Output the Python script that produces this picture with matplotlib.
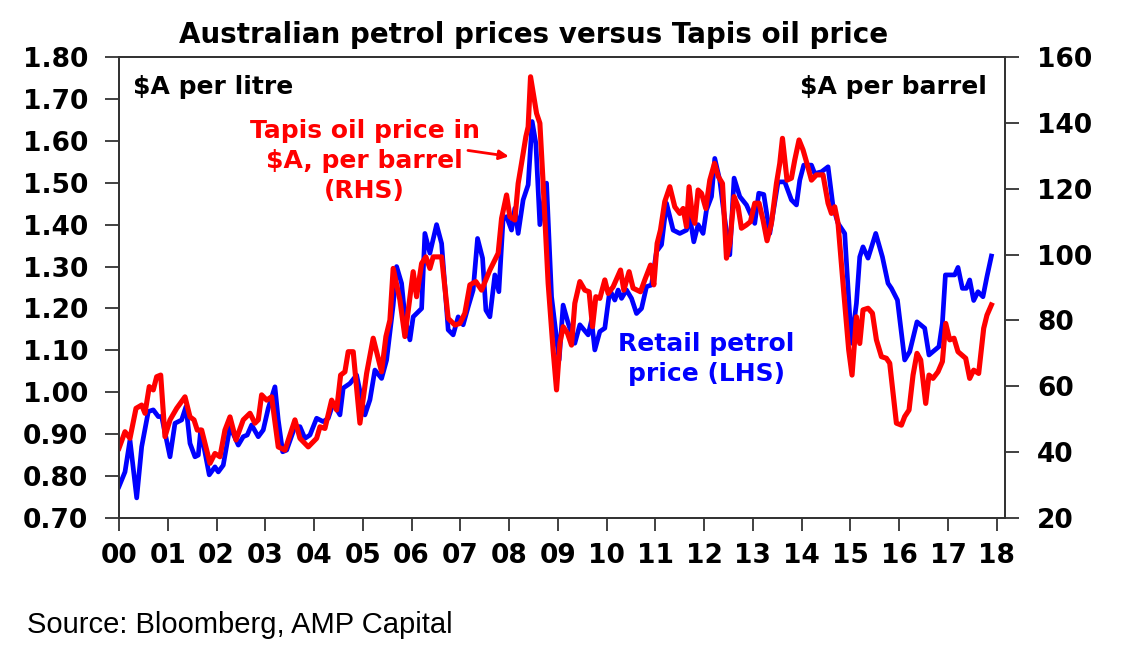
import matplotlib
matplotlib.use("Agg")
import matplotlib.pyplot as plt

# Retail petrol price, $A per litre (LHS)
petrol_years = [
    0.0, 0.123, 0.225, 0.363, 0.465, 0.601, 0.703, 0.806, 0.875, 1.046,
    1.148, 1.285, 1.374, 1.456, 1.558, 1.626, 1.675, 1.851, 1.968, 2.036,
    2.138, 2.276, 2.446, 2.548, 2.630, 2.720, 2.856, 2.958, 3.061, 3.198,
    3.266, 3.356, 3.438, 3.608, 3.711, 3.813, 3.916, 4.053, 4.188, 4.291,
    4.393, 4.531, 4.598, 4.736, 4.873, 5.043, 5.146, 5.248, 5.385, 5.488,
    5.623, 5.693, 5.795, 5.863, 5.966, 6.033, 6.206, 6.273, 6.376, 6.513,
    6.616, 6.751, 6.853, 6.956, 7.058, 7.161, 7.263, 7.353, 7.456, 7.524,
    7.606, 7.708, 7.790, 7.878, 7.948, 8.050, 8.118, 8.186, 8.288, 8.391,
    8.473, 8.549, 8.631, 8.768, 8.871, 9.026, 9.108, 9.211, 9.348, 9.451,
    9.621, 9.691, 9.758, 9.861, 9.963, 10.066, 10.168, 10.236, 10.306, 10.408,
    10.511, 10.613, 10.716, 10.818, 10.921, 11.023, 11.126, 11.228, 11.364, 11.501,
    11.638, 11.706, 11.788, 11.876, 11.978, 12.048, 12.151, 12.218, 12.320, 12.388,
    12.526, 12.614, 12.731, 12.868, 13.038, 13.120, 13.223, 13.346, 13.516, 13.653,
    13.790, 13.893, 13.961, 14.043, 14.201, 14.268, 14.406, 14.541, 14.644, 14.746,
    14.883, 15.020, 15.123, 15.191, 15.258, 15.361, 15.519, 15.656, 15.771, 15.841,
    15.964, 16.113, 16.216, 16.365, 16.523, 16.611, 16.693, 16.816, 16.886, 16.948,
    17.138, 17.206, 17.296, 17.378, 17.446, 17.528, 17.616, 17.718, 17.800, 17.891,
]
petrol_price = [
    0.775, 0.81, 0.886, 0.748, 0.87, 0.954, 0.958, 0.942, 0.942, 0.846,
    0.926, 0.934, 0.966, 0.878, 0.846, 0.85, 0.91, 0.803, 0.822, 0.81,
    0.826, 0.918, 0.874, 0.894, 0.898, 0.922, 0.894, 0.91, 0.962, 1.013,
    0.934, 0.858, 0.862, 0.918, 0.918, 0.89, 0.898, 0.938, 0.93, 0.938,
    0.974, 0.946, 1.01, 1.021, 1.041, 0.946, 0.982, 1.053, 1.033, 1.077,
    1.208, 1.30, 1.26, 1.18, 1.125, 1.18, 1.20, 1.379, 1.332, 1.40,
    1.355, 1.149, 1.137, 1.18, 1.161, 1.204, 1.244, 1.367, 1.32, 1.196,
    1.18, 1.28, 1.24, 1.415, 1.419, 1.387, 1.439, 1.379, 1.459, 1.495,
    1.646, 1.594, 1.40, 1.499, 1.228, 1.077, 1.208, 1.165, 1.117, 1.161,
    1.137, 1.172, 1.101, 1.145, 1.153, 1.244, 1.22, 1.244, 1.224, 1.244,
    1.224, 1.188, 1.20, 1.252, 1.256, 1.336, 1.352, 1.451, 1.387, 1.379,
    1.387, 1.419, 1.359, 1.40, 1.379, 1.435, 1.467, 1.558, 1.506, 1.443,
    1.328, 1.511, 1.467, 1.447, 1.403, 1.475, 1.472, 1.379, 1.502, 1.502,
    1.459, 1.447, 1.506, 1.542, 1.542, 1.522, 1.526, 1.538, 1.443, 1.403,
    1.379, 1.117, 1.212, 1.323, 1.347, 1.32, 1.379, 1.323, 1.26, 1.248,
    1.22, 1.077, 1.097, 1.168, 1.153, 1.089, 1.097, 1.109, 1.165, 1.28,
    1.28, 1.298, 1.248, 1.248, 1.268, 1.219, 1.24, 1.228, 1.276, 1.325,
]

# Tapis oil price, $A per barrel (RHS)
tapis_years = [
    0.0, 0.123, 0.225, 0.349, 0.465, 0.533, 0.621, 0.703, 0.773, 0.855,
    0.943, 1.046, 1.183, 1.353, 1.456, 1.538, 1.605, 1.695, 1.866, 1.968,
    2.071, 2.173, 2.276, 2.399, 2.548, 2.686, 2.788, 2.856, 2.925, 3.028,
    3.130, 3.266, 3.403, 3.608, 3.711, 3.881, 4.053, 4.121, 4.223, 4.361,
    4.463, 4.545, 4.633, 4.701, 4.803, 4.941, 5.078, 5.213, 5.385, 5.474,
    5.556, 5.623, 5.761, 5.863, 6.033, 6.103, 6.206, 6.294, 6.376, 6.443,
    6.616, 6.751, 6.888, 6.991, 7.093, 7.196, 7.319, 7.436, 7.606, 7.776,
    7.846, 7.948, 8.016, 8.118, 8.186, 8.255, 8.344, 8.391, 8.440, 8.563,
    8.631, 8.698, 8.801, 8.903, 8.973, 9.041, 9.108, 9.198, 9.280, 9.348,
    9.451, 9.553, 9.641, 9.711, 9.779, 9.861, 9.963, 10.031, 10.133, 10.285,
    10.353, 10.461, 10.543, 10.695, 10.783, 10.900, 10.968, 11.036, 11.105, 11.193,
    11.296, 11.398, 11.501, 11.569, 11.638, 11.691, 11.761, 11.808, 11.876, 11.946,
    12.034, 12.116, 12.212, 12.290, 12.376, 12.458, 12.526, 12.614, 12.696, 12.765,
    12.868, 12.950, 13.038, 13.126, 13.208, 13.290, 13.380, 13.483, 13.551, 13.606,
    13.700, 13.790, 13.858, 13.946, 14.028, 14.098, 14.201, 14.303, 14.438, 14.541,
    14.611, 14.678, 14.746, 14.848, 14.965, 15.033, 15.123, 15.191, 15.258, 15.361,
    15.451, 15.533, 15.636, 15.738, 15.806, 15.943, 16.046, 16.113, 16.202, 16.284,
    16.365, 16.441, 16.544, 16.611, 16.693, 16.796, 16.886, 16.954, 17.036, 17.124,
    17.206, 17.364, 17.446, 17.528, 17.630, 17.733, 17.800, 17.891,
]
tapis_price = [
    41.2, 46.2, 44.2, 53.3, 54.3, 51.8, 59.9, 58.9, 62.9, 63.4,
    44.7, 49.8, 53.3, 56.8, 50.7, 49.8, 46.7, 46.7, 36.6, 39.6,
    38.6, 46.7, 50.7, 43.7, 49.8, 51.8, 48.8, 49.8, 57.4, 55.8,
    56.8, 41.6, 40.6, 49.8, 44.2, 41.6, 44.2, 47.7, 47.2, 55.8,
    52.8, 63.4, 64.4, 70.5, 70.5, 48.8, 63.9, 74.6, 64.4, 75.1,
    80.1, 95.8, 86.2, 75.1, 94.8, 87.2, 97.3, 99.3, 95.8, 99.3,
    99.3, 80.6, 78.6, 79.1, 82.2, 90.8, 91.8, 89.2, 95.3, 100.4,
    111.0, 118.1, 111.5, 110.5, 121.6, 127.7, 135.8, 138.8, 154.0, 142.9,
    139.9, 121.6, 91.3, 71.0, 58.9, 73.0, 78.1, 76.1, 72.5, 85.2,
    91.8, 89.2, 88.7, 78.1, 87.2, 86.7, 92.3, 88.2, 90.2, 95.3,
    89.2, 94.8, 89.8, 88.7, 92.3, 96.8, 90.8, 103.4, 107.5, 116.1,
    120.6, 114.5, 112.5, 114.0, 108.5, 120.6, 111.5, 109.5, 119.6, 118.6,
    114.0, 122.6, 127.7, 123.7, 121.6, 98.9, 103.4, 117.6, 114.5, 108.0,
    109.0, 110.0, 115.6, 115.6, 110.5, 104.2, 109.5, 121.6, 127.7, 135.3,
    122.6, 123.2, 128.7, 134.8, 131.8, 128.2, 122.6, 124.2, 124.2, 115.6,
    112.5, 114.5, 109.5, 91.3, 71.0, 63.4, 81.1, 73.0, 83.2, 83.7,
    82.2, 74.1, 69.0, 68.5, 67.0, 48.8, 48.2, 50.8, 52.8, 63.4,
    70.0, 68.0, 54.8, 63.4, 62.4, 64.4, 67.5, 79.1, 74.1, 74.6,
    70.5, 68.5, 62.4, 64.9, 63.9, 77.6, 81.6, 84.7,
]

year_ticks = list(range(0, 19))
year_labels = [f"{y:02d}" for y in year_ticks]
left_ticks = [0.70, 0.80, 0.90, 1.00, 1.10, 1.20, 1.30, 1.40, 1.50, 1.60, 1.70, 1.80]
right_ticks = [20, 40, 60, 80, 100, 120, 140, 160]

BOLD = "DejaVu Sans"
RED = "#ff0000"
BLUE = "#0000ff"
SPINE = "#333333"

fig = plt.figure(figsize=(11.21, 6.61), dpi=100)
ax = fig.add_axes([119 / 1121, 1 - 518 / 661, (1005 - 119) / 1121, (518 - 57) / 661])
ax2 = ax.twinx()

ax.plot(petrol_years, petrol_price, color=BLUE, linewidth=3.4, solid_joinstyle="round")
ax2.plot(tapis_years, tapis_price, color=RED, linewidth=3.7, solid_joinstyle="round")

ax.set_xlim(0, 18.17)
ax.set_ylim(0.70, 1.80)
ax2.set_ylim(20, 160)

ax.set_xticks(year_ticks)
ax.set_xticklabels(year_labels)
ax.set_yticks(left_ticks)
ax.set_yticklabels([f"{v:.2f}" for v in left_ticks])
ax2.set_yticks(right_ticks)
ax2.set_yticklabels([str(v) for v in right_ticks])

for a in (ax, ax2):
    for sp in a.spines.values():
        sp.set_color(SPINE)
        sp.set_linewidth(1.3)
ax.tick_params(axis="x", direction="out", length=9, width=1.3, color=SPINE, pad=9)
ax.tick_params(axis="y", direction="out", length=10, width=1.3, color=SPINE, pad=12)
ax2.tick_params(axis="y", direction="out", length=10, width=1.3, color=SPINE, pad=13)
for lab in ax.get_xticklabels() + ax.get_yticklabels() + ax2.get_yticklabels():
    lab.set_fontfamily(BOLD)
    lab.set_fontweight("bold")
    lab.set_fontsize(19)

fig.text(0.476, 1 - 35 / 661, "Australian petrol prices versus Tapis oil price",
         ha="center", va="center", fontsize=20, fontweight="bold", family=BOLD)
fig.text(27 / 1121, 1 - 625 / 661, "Source: Bloomberg, AMP Capital",
         ha="left", va="center", fontsize=21, family="Liberation Sans")

ax.text(0.016, 0.934, "$A per litre", transform=ax.transAxes, ha="left", va="center",
        fontsize=18, fontweight="bold", family=BOLD)
ax.text(0.979, 0.934, "$A per barrel", transform=ax.transAxes, ha="right", va="center",
        fontsize=18, fontweight="bold", family=BOLD)

ax.text(5.04, 1.552, "Tapis oil price in\n$A, per barrel\n(RHS)", ha="center", va="center",
        color=RED, fontsize=18, fontweight="bold", family=BOLD, linespacing=1.32)
ax.annotate("", xy=(8.05, 1.562), xytext=(7.1, 1.578),
            arrowprops=dict(arrowstyle="-|>", color=RED, lw=2, mutation_scale=14))
ax.text(12.05, 1.08, "Retail petrol\nprice (LHS)", ha="center", va="center",
        color=BLUE, fontsize=18, fontweight="bold", family=BOLD, linespacing=1.3)

fig.savefig("out.png", dpi=100)
